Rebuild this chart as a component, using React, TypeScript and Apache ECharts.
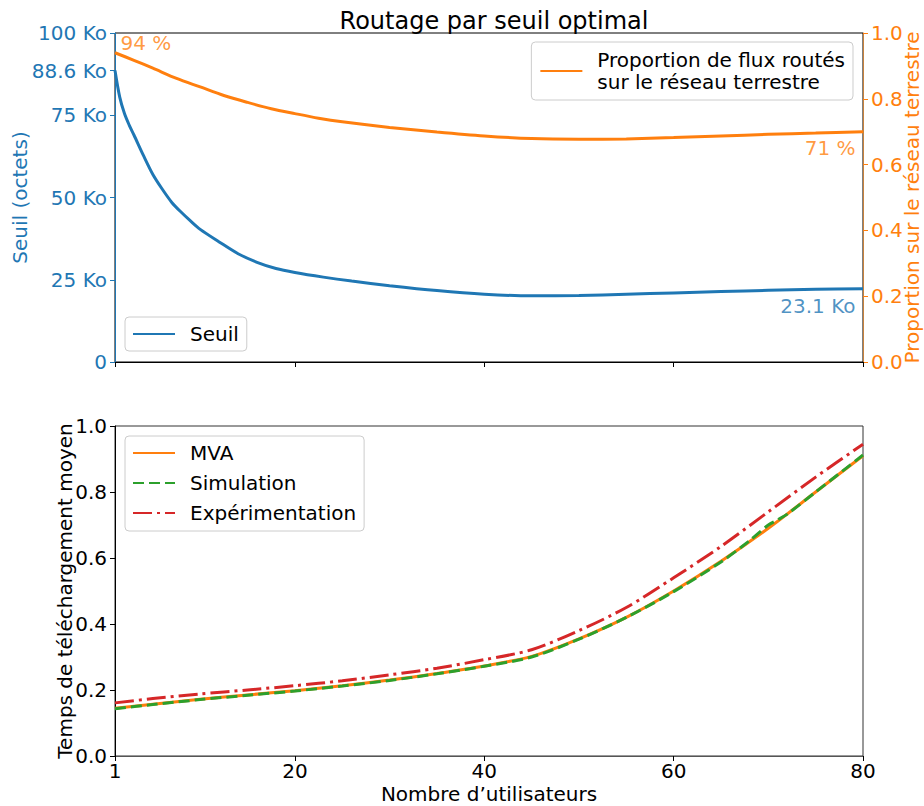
import React, { useEffect, useRef } from "react";
import * as echarts from "echarts";

// ---- Data ----
const xTicks = [1, 20, 40, 60, 80];
const seuilTicks = [0, 25, 50, 75, 88.6, 100];

// Top: threshold (Ko) vs number of users
const seuilX = [1, 1.5, 2, 2.5, 3, 4, 5, 6, 7, 8, 9, 10, 12, 14, 16, 18, 20, 23, 26, 30, 35, 40, 45, 50, 55, 60, 65, 70, 75, 80];
const seuilY = [88.6, 80.5, 75.5, 72, 69, 62.8, 57, 52.5, 48.5, 45.5, 42.8, 40.3, 36.5, 32.9, 30.3, 28.4, 27.2, 25.8, 24.6, 23.2, 21.7, 20.6, 20.1, 20.2, 20.6, 21, 21.4, 21.8, 22.1, 22.3];

// Top: proportion routed on terrestrial network
const propX = [1, 3, 5, 7.5, 10, 12.5, 15, 17.5, 20, 22.5, 25, 30, 35, 40, 45, 50, 55, 60, 65, 70, 75, 80];
const propY = [0.94, 0.917, 0.893, 0.862, 0.836, 0.81, 0.789, 0.77, 0.755, 0.741, 0.73, 0.713, 0.699, 0.687, 0.679, 0.677, 0.678, 0.682, 0.687, 0.692, 0.696, 0.7];

// Bottom: mean download time
const timeX = [1, 5, 10, 15, 20, 25, 30, 35, 40, 45, 50, 55, 60, 65, 70, 75, 80];
const mvaY = [0.145, 0.157, 0.172, 0.185, 0.198, 0.213, 0.23, 0.25, 0.273, 0.302, 0.355, 0.42, 0.5, 0.59, 0.69, 0.8, 0.91];
const simX = [1, 5, 10, 15, 20, 25, 30, 35, 40, 45, 50, 55, 60, 65, 68, 70, 71, 72, 75, 80];
const simY = [0.143, 0.156, 0.171, 0.184, 0.197, 0.212, 0.229, 0.249, 0.272, 0.3, 0.354, 0.42, 0.498, 0.588, 0.652, 0.7, 0.716, 0.733, 0.8, 0.912];
const expY = [0.161, 0.174, 0.188, 0.2, 0.213, 0.228, 0.246, 0.266, 0.292, 0.322, 0.38, 0.45, 0.54, 0.635, 0.74, 0.845, 0.945];

// Annotations
const startProp = { x: 1, y: 0.94, text: "94 %" };
const endProp = { x: 80, y: 0.7, text: "71 %" };
const endSeuil = { x: 80, y: 22.3, text: "23.1 Ko" };

const BLUE = "#1f77b4";
const ORANGE = "#ff7f0e";
const GREEN = "#2ca02c";
const RED = "#d62728";
const FONT = "DejaVu Sans";

const zip = (xs: number[], ys: number[]) => xs.map((x, i) => [x, ys[i]]);

export default function App() {
  const ref = useRef<HTMLDivElement>(null);
  useEffect(() => {
    if (!ref.current) return;
    const chart = echarts.init(ref.current, undefined, { renderer: "svg" });
    const tickFont = { fontFamily: FONT, fontSize: 20 };
    const legendBase = {
      orient: "vertical" as const,
      selectedMode: false,
      backgroundColor: "rgba(255,255,255,0.8)",
      borderColor: "#cccccc",
      borderWidth: 1,
      borderRadius: 4,
      itemWidth: 42,
      itemHeight: 14,
      itemGap: 10,
      itemStyle: { opacity: 0 },
      textStyle: { fontFamily: FONT, fontSize: 20, color: "#000", padding: [0, 0, 0, 10] },
    };
    const lineCommon = { smooth: 0.3, symbol: "none", showSymbol: false };
    chart.setOption({
      animation: false,
      backgroundColor: "#fff",
      title: {
        text: "Routage par seuil optimal",
        left: 489,
        top: 4,
        textAlign: "center",
        textStyle: { fontFamily: FONT, fontSize: 24, fontWeight: "normal", color: "#000" },
      },
      grid: [
        { left: 115, top: 33, width: 748, height: 329, show: true, borderColor: "#000", borderWidth: 1, outerBoundsMode: "none", containLabel: false },
        { left: 115, top: 426, width: 748, height: 330, show: true, borderColor: "#333", borderWidth: 1, outerBoundsMode: "none", containLabel: false },
      ],
      xAxis: [
        {
          type: "value", gridIndex: 0, min: 1, max: 80,
          axisLine: { onZero: false, lineStyle: { color: "#000", width: 1 } },
          axisTick: { show: true, customValues: xTicks, length: 5, lineStyle: { color: "#000" } },
          axisLabel: { show: false, customValues: xTicks },
          splitLine: { show: false },
        },
        {
          type: "value", gridIndex: 1, min: 1, max: 80,
          name: "Nombre d\u2019utilisateurs", nameLocation: "middle", nameGap: 30, nameMoveOverlap: false,
          nameTextStyle: { ...tickFont, color: "#000", verticalAlign: "top", lineHeight: 16 },
          axisLine: { onZero: false, lineStyle: { color: "#555", width: 1 } },
          axisTick: { show: true, customValues: xTicks, length: 5, lineStyle: { color: "#000" } },
          axisLabel: { show: true, customValues: xTicks, margin: 7, ...tickFont, lineHeight: 16, color: "#000" },
          splitLine: { show: false },
        },
      ],
      yAxis: [
        {
          type: "value", gridIndex: 0, min: 0, max: 100, position: "left",
          name: "Seuil (octets)", nameLocation: "middle", nameGap: 85, nameRotate: 90, nameMoveOverlap: false,
          nameTextStyle: { ...tickFont, color: BLUE },
          axisLine: { show: true, onZero: false, lineStyle: { color: BLUE, width: 1 } },
          axisTick: { show: true, customValues: seuilTicks, length: 5, lineStyle: { color: BLUE } },
          axisLabel: {
            show: true, customValues: seuilTicks, margin: 8, ...tickFont, color: BLUE,
            formatter: (v: number) => (v === 0 ? "0" : `${v} Ko`),
          },
          splitLine: { show: false },
        },
        {
          type: "value", gridIndex: 0, min: 0, max: 1, interval: 0.2, position: "right",
          name: "Proportion sur le r\u00e9seau terrestre", nameLocation: "middle", nameGap: 39, nameRotate: 90, nameMoveOverlap: false,
          nameTextStyle: { ...tickFont, color: ORANGE },
          axisLine: { show: true, onZero: false, lineStyle: { color: "#c8823c", width: 1 } },
          axisTick: { show: true, length: 5, lineStyle: { color: ORANGE } },
          axisLabel: { show: true, margin: 8, ...tickFont, color: ORANGE, formatter: (v: number) => v.toFixed(1) },
          splitLine: { show: false },
        },
        {
          type: "value", gridIndex: 1, min: 0, max: 1, interval: 0.2, position: "left",
          name: "Temps de t\u00e9l\u00e9chargement moyen", nameLocation: "middle", nameGap: 40, nameRotate: 90, nameMoveOverlap: false,
          nameTextStyle: { ...tickFont, color: "#000" },
          axisLine: { show: true, onZero: false, lineStyle: { color: "#000", width: 1 } },
          axisTick: { show: true, length: 5, lineStyle: { color: "#000" } },
          axisLabel: { show: true, margin: 8, ...tickFont, color: "#000", formatter: (v: number) => v.toFixed(1) },
          splitLine: { show: false },
        },
      ],
      legend: [
        {
          ...legendBase,
          data: ["Seuil"],
          left: 125, top: 317,
          padding: [7, 8, 7, 7],
        },
        {
          ...legendBase,
          data: ["Proportion de flux rout\u00e9s\nsur le r\u00e9seau terrestre"],
          right: 71, top: 42,
          padding: [7, 8, 7, 8],
          textStyle: { ...legendBase.textStyle, lineHeight: 22 },
        },
        {
          ...legendBase,
          data: ["MVA", "Simulation", "Exp\u00e9rimentation"],
          left: 125, top: 436,
          padding: [7, 8, 8, 7],
        },
      ],
      series: [
        {
          name: "Seuil", type: "line", xAxisIndex: 0, yAxisIndex: 0, ...lineCommon,
          data: zip(seuilX, seuilY),
          lineStyle: { color: BLUE, width: 3 }, itemStyle: { color: BLUE },
        },
        {
          name: "Proportion de flux rout\u00e9s\nsur le r\u00e9seau terrestre", type: "line", xAxisIndex: 0, yAxisIndex: 1, ...lineCommon,
          data: zip(propX, propY),
          lineStyle: { color: ORANGE, width: 3 }, itemStyle: { color: ORANGE },
        },
        {
          name: "annotations-prop", type: "scatter", xAxisIndex: 0, yAxisIndex: 1, silent: true,
          symbolSize: 1, itemStyle: { color: "rgba(0,0,0,0)" },
          data: [
            {
              value: [startProp.x, startProp.y],
              label: { show: true, formatter: startProp.text, position: [6, -9], align: "left", verticalAlign: "middle", ...tickFont, color: ORANGE },
            },
            {
              value: [endProp.x, endProp.y],
              label: { show: true, formatter: endProp.text, position: [-7, 17], align: "right", verticalAlign: "middle", ...tickFont, color: ORANGE },
            },
          ],
        },
        {
          name: "annotations-seuil", type: "scatter", xAxisIndex: 0, yAxisIndex: 0, silent: true,
          symbolSize: 1, itemStyle: { color: "rgba(0,0,0,0)" },
          data: [
            {
              value: [endSeuil.x, endSeuil.y],
              label: { show: true, formatter: endSeuil.text, position: [-7, 18], align: "right", verticalAlign: "middle", ...tickFont, color: BLUE },
            },
          ],
        },
        {
          name: "MVA", type: "line", xAxisIndex: 1, yAxisIndex: 2, ...lineCommon,
          data: zip(timeX, mvaY),
          lineStyle: { color: ORANGE, width: 3 }, itemStyle: { color: ORANGE },
        },
        {
          name: "Simulation", type: "line", xAxisIndex: 1, yAxisIndex: 2, ...lineCommon,
          data: zip(simX, simY),
          lineStyle: { color: GREEN, width: 3, type: [11, 5] }, itemStyle: { color: GREEN },
        },
        {
          name: "Exp\u00e9rimentation", type: "line", xAxisIndex: 1, yAxisIndex: 2, ...lineCommon,
          data: zip(timeX, expY),
          lineStyle: { color: RED, width: 3, type: [19, 5, 3, 5] }, itemStyle: { color: RED },
        },
      ],
    });
    return () => chart.dispose();
  }, []);
  return <div ref={ref} style={{ position: "fixed", left: 0, top: 0, width: 924, height: 806, background: "#fff" }} />;
}
